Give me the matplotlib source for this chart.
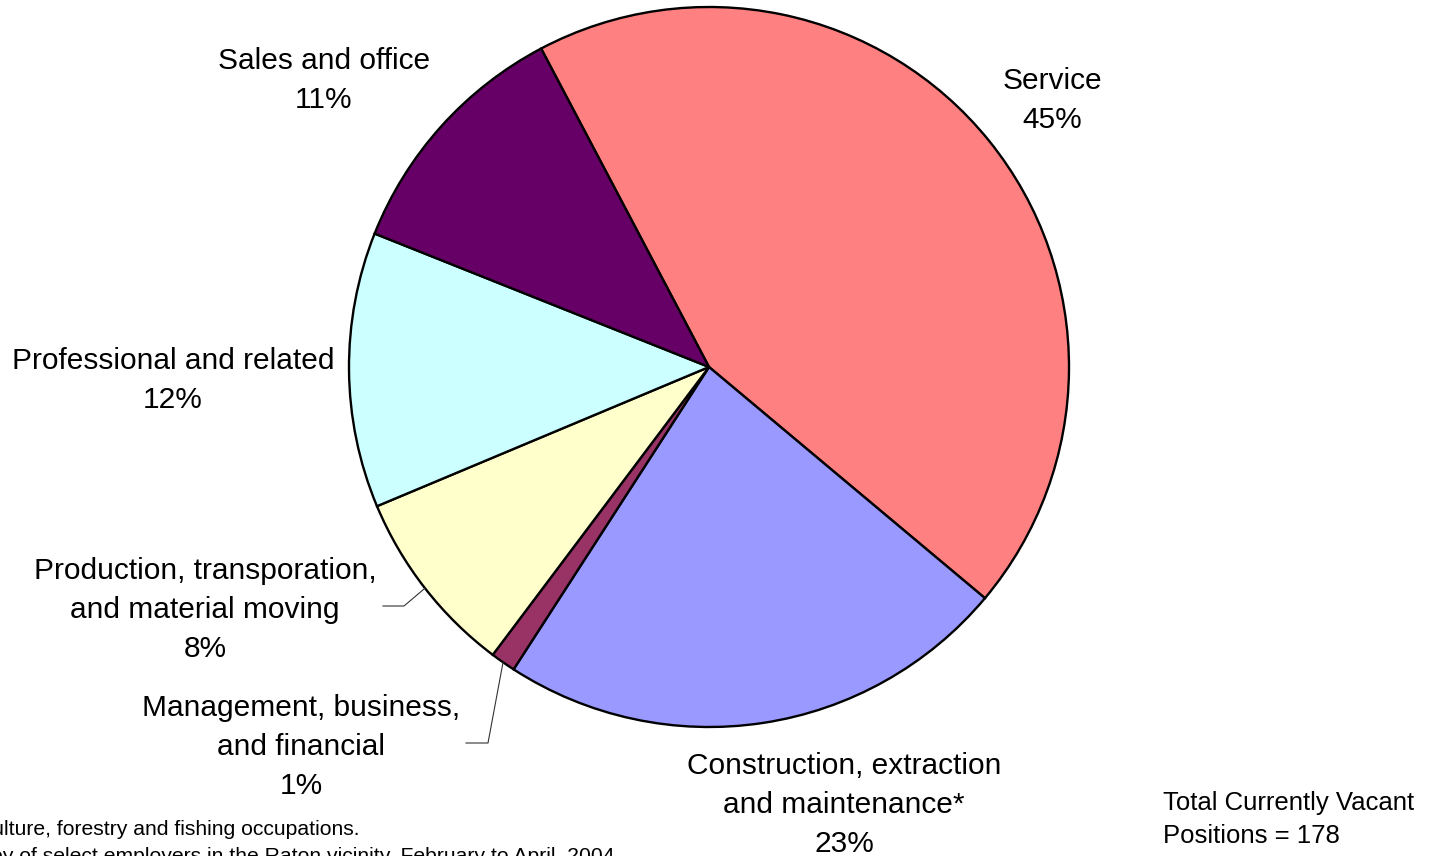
import numpy as np
import matplotlib
matplotlib.use('Agg')
import matplotlib.pyplot as plt

plt.rcParams['font.family'] = ['Liberation Sans', 'DejaVu Sans']

# vacant positions by occupation group (clockwise from the top)
categories = ['Service',
              'Construction, extraction\nand maintenance*',
              'Management, business,\nand financial',
              'Production, transporation,\nand material moving',
              'Professional and related',
              'Sales and office']
positions = [78, 41, 2, 15, 22, 20]
pct_labels = ['45%', '23%', '1%', '8%', '12%', '11%']
colors = ['#FF8080', '#9999FF', '#993366', '#FFFFCC', '#CCFFFF', '#660066']

total_text = 'Total Currently Vacant\nPositions = 178'
note_1 = '*Includes agriculture, forestry and fishing occupations.'
note_2 = 'Source: Survey of select employers in the Raton vicinity, February to April, 2004'

W, H = 1433, 856


def main():
    fig = plt.figure(figsize=(W / 100, H / 100), dpi=100)
    ax = fig.add_axes([0, 0, 1, 1])

    cx, cy, r = 709, H - 367, 360
    wedges, _ = ax.pie(positions, colors=colors, startangle=117.8, counterclock=False,
                       center=(cx, cy), radius=r, frame=False,
                       wedgeprops=dict(edgecolor='black', linewidth=1.7))
    ax.set_xlim(0, W)
    ax.set_ylim(0, H)
    ax.set_aspect('equal')
    ax.axis('off')

    # label anchors: centre x, baseline of first line (image y)
    anchors = [(1052, 89), (844, 774), (301, 716), (205, 579), (173, 369), (324, 69)]
    for cat, pct, (x, y) in zip(categories, pct_labels, anchors):
        lines = cat.split('\n') + [pct]
        for i, line in enumerate(lines):
            ax.text(x, H - y - i * 39, line, ha='center', va='baseline', fontsize=21.5)

    # leader lines for the two small slices
    elbows = {3: [(404, 606), (383, 606)], 2: [(488, 743), (466, 743)]}
    for idx, pts in elbows.items():
        w = wedges[idx]
        mid = np.deg2rad((w.theta1 + w.theta2) / 2)
        xs = [cx + r * np.cos(mid)] + [p[0] for p in pts]
        ys = [cy + r * np.sin(mid)] + [H - p[1] for p in pts]
        ax.plot(xs, ys, color='#333333', lw=0.8)

    for i, line in enumerate(total_text.split('\n')):
        ax.text(1163, H - 810 - i * 33, line, ha='left', va='baseline', fontsize=18.5)

    ax.text(360, H - 835, note_1, ha='right', va='baseline', fontsize=15.2)
    ax.text(615, H - 862, note_2, ha='right', va='baseline', fontsize=15.2)

    fig.savefig('out.png', dpi=100, facecolor='white')


if __name__ == '__main__':
    main()
